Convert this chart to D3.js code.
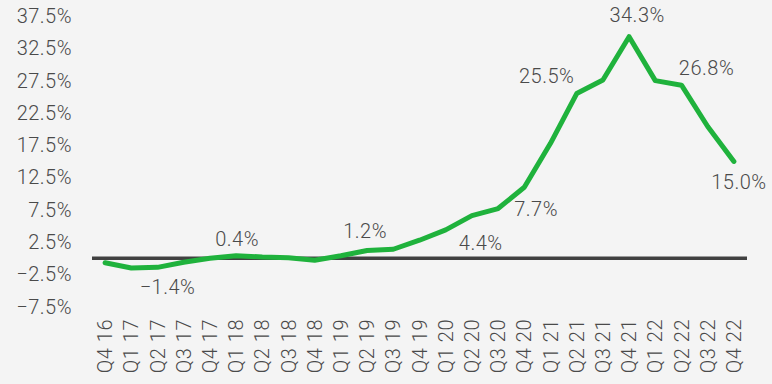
<!DOCTYPE html>
<html><head><meta charset="utf-8">
<script src="https://cdn.jsdelivr.net/npm/d3@7"></script>
<style>
html,body{margin:0;padding:0;background:#f4f4f4;}
svg{display:block;}
text{font-family:Roboto,"Open Sans",sans-serif;font-weight:300;fill:#4a4a4a;letter-spacing:0.5px;}
</style></head>
<body><svg id="c" width="772" height="384"></svg>
<script>
const quarters = ["Q4 16","Q1 17","Q2 17","Q3 17","Q4 17","Q1 18","Q2 18","Q3 18","Q4 18","Q1 19","Q2 19","Q3 19","Q4 19","Q1 20","Q2 20","Q3 20","Q4 20","Q1 21","Q2 21","Q3 21","Q4 21","Q1 22","Q2 22","Q3 22","Q4 22"];
const values = [-0.7,-1.5,-1.4,-0.6,0.0,0.4,0.2,0.1,-0.3,0.4,1.2,1.4,2.8,4.4,6.6,7.7,11.0,17.8,25.5,27.6,34.3,27.5,26.8,20.4,15.0];
const yTicks = [37.5,32.5,27.5,22.5,17.5,12.5,7.5,2.5,-2.5,-7.5];
const labelQuarters = ["Q2 17","Q1 18","Q2 19","Q1 20","Q3 20","Q2 21","Q4 21","Q2 22","Q4 22"];
// label placement offsets (layout, not data)
const labelOffsets = [[10,20],[1,-17],[-2,-19.5],[35,13],[38,0],[-30,-18],[8,-22],[25,-17],[5,21]];

const svg = d3.select("#c");
const fs = 20;
const x = d3.scaleBand().domain(quarters).range([92,747]).padding(0);
const y = d3.scaleLinear().domain([-7.5,37.5]).range([306.75,16.05]);
const cx = q => x(q) + x.bandwidth()/2;

// y axis
const ya = svg.append("g").attr("transform","translate(76,0)")
  .call(d3.axisLeft(y).tickValues(yTicks).tickSize(0).tickPadding(4).tickFormat(d=>d3.format(".1f")(d)+"%"));
ya.select(".domain").remove();
ya.selectAll("text").style("font-size",fs+"px").attr("fill",null).attr("font-family",null);

// x axis
const xa = svg.append("g").attr("transform","translate(0,319)")
  .call(d3.axisBottom(x).tickSize(0));
xa.select(".domain").remove();
xa.selectAll("text").style("font-size",fs+"px").attr("fill",null).attr("font-family",null)
  .attr("transform","rotate(-90)").attr("text-anchor","end").attr("x",0).attr("y",0).attr("dy","0.35em");

// zero line
svg.append("line").attr("x1",x.range()[0]).attr("x2",x.range()[1])
  .attr("y1",y(0)).attr("y2",y(0)).attr("stroke","#404040").attr("stroke-width",3.5);

// series line
const data = quarters.map((q,i)=>({q,v:values[i]}));
svg.append("path").datum(data)
  .attr("fill","none").attr("stroke","#1fb23c").attr("stroke-width",5)
  .attr("stroke-linejoin","round").attr("stroke-linecap","round")
  .attr("d", d3.line().x(d=>cx(d.q)).y(d=>y(d.v)));

// data labels
svg.append("g").selectAll("text").data(labelQuarters).join("text")
  .attr("x",(q,i)=>cx(q)+labelOffsets[i][0])
  .attr("y",(q,i)=>y(values[quarters.indexOf(q)])+labelOffsets[i][1])
  .attr("dy","0.35em").attr("text-anchor","middle").style("font-size",fs+"px")
  .text(q=>d3.format(".1f")(values[quarters.indexOf(q)])+"%");
</script></body></html>
